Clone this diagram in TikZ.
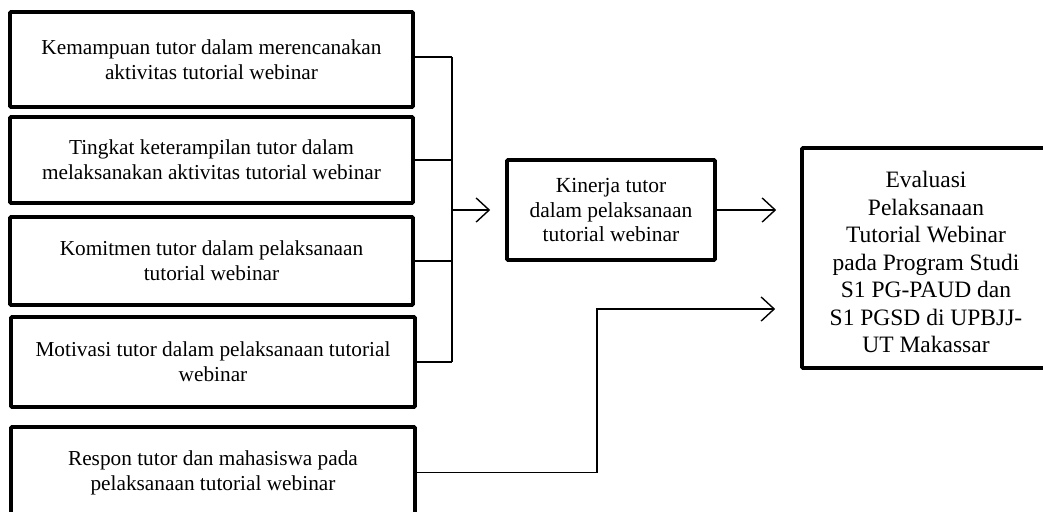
\documentclass[tikz,border=0pt]{standalone}
\usepackage{fontspec}
\setmainfont{Liberation Serif}
\usetikzlibrary{arrows.meta}
\begin{document}
\begin{tikzpicture}[x=1pt,y=-1pt,
  box/.style={draw,line width=3.6pt,rounded corners=1pt,align=center,inner sep=0pt,font=\fontsize{21.3}{25}\selectfont},
  conn/.style={line width=1.4pt},
  arr/.style={conn,-{Straight Barb[length=13pt,width=24pt,line width=1.4pt]}}]
\clip (0,0) rectangle (1043,511);
\fill[white] (0,0) rectangle (1043,511);
\node[box,minimum width=403pt,minimum height=95pt] (b1) at (211.5,59.5) {Kemampuan tutor dalam merencanakan\\aktivitas tutorial webinar};
\node[box,minimum width=403pt,minimum height=86pt] (b2) at (211.5,160) {Tingkat keterampilan tutor dalam\\melaksanakan aktivitas tutorial webinar};
\node[box,minimum width=403pt,minimum height=88pt] (b3) at (211.5,261) {Komitmen tutor dalam pelaksanaan\\tutorial webinar};
\node[box,minimum width=404pt,minimum height=90pt] (b4) at (213,362) {Motivasi tutor dalam pelaksanaan tutorial\\webinar};
\node[box,minimum width=404pt,minimum height=91pt] (b5) at (213,472.5) {Respon tutor dan mahasiswa pada\\pelaksanaan tutorial webinar};
\node[box,minimum width=208pt,minimum height=100pt,font=\fontsize{21.5}{24.5}\selectfont] (kin) at (611,210) {Kinerja tutor\\dalam pelaksanaan\\tutorial webinar};
\node[box,minimum width=248pt,minimum height=220pt,font=\fontsize{23.5}{27.5}\selectfont] (ev) at (926,258) {\parbox[c][210pt][c]{240pt}{\centering\vspace*{8pt}Evaluasi\\Pelaksanaan\\Tutorial Webinar\\pada Program Studi\\S1 PG-PAUD dan\\S1 PGSD di UPBJJ-\\UT Makassar}};
\coordinate (j) at (452,210);
\draw[conn] ([yshift=2.5pt]b1.east) -- ([yshift=2.5pt]b1.east -| j);
\draw[conn] (b2.east) -- (b2.east -| j);
\draw[conn] (b3.east) -- (b3.east -| j);
\draw[conn] (b4.east) -- (b4.east -| j);
\draw[conn] ([yshift=2.5pt]b1.east -| j) -- (b4.east -| j);
\draw[arr,shorten >=15pt] (j) -- (kin.west);
\draw[arr,shorten >=24pt] (kin.east) -- (kin.east -| ev.west);
\draw[arr,shorten >=25pt] (b5.east) -- ++(180,0) |- ([yshift=-51pt]ev.west);
\end{tikzpicture}
\end{document}
